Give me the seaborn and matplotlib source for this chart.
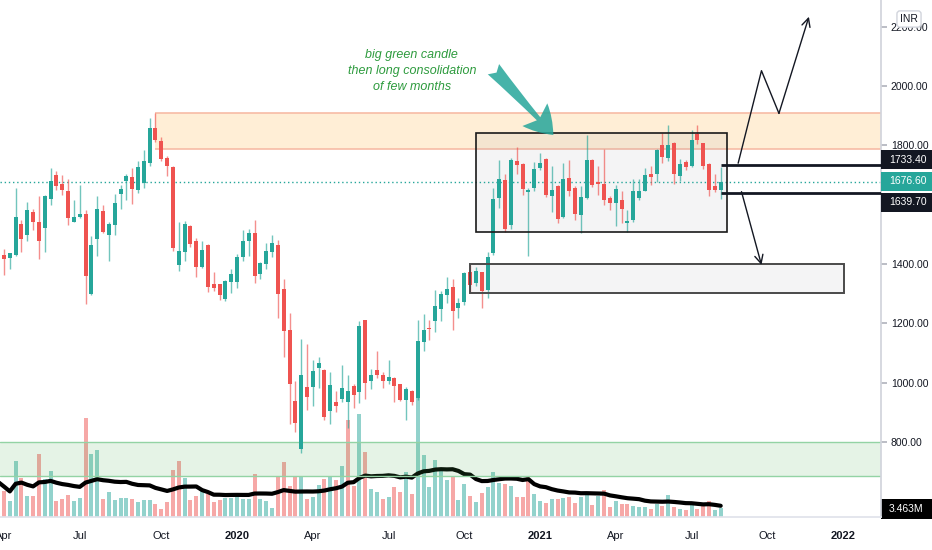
import logging
import numpy as np
import pandas as pd
import matplotlib
matplotlib.use("Agg")
import matplotlib.pyplot as plt
import matplotlib.dates as mdates
from matplotlib.patches import Rectangle
from matplotlib.transforms import blended_transform_factory, ScaledTranslation
import seaborn as sns

logging.getLogger('matplotlib').setLevel(logging.CRITICAL)

# ---------------- data (weekly bars) ----------------
dates = pd.date_range("2019-03-25", periods=125, freq="W-MON")

opens = [1442, 1429, 1419, 1430, 1535, 1498, 1575, 1541, 1521, 1619,
         1700, 1669, 1645, 1543, 1560, 1568, 1298, 1484, 1580, 1498,
         1532, 1637, 1679, 1693, 1651, 1674, 1739, 1860, 1815, 1758,
         1728, 1397, 1442, 1527, 1479, 1391, 1463, 1331, 1331, 1281,
         1340, 1340, 1423, 1476, 1506, 1366, 1400, 1442, 1464, 1315,
         1176, 939, 775, 986, 984, 1049, 1043, 905, 933, 945,
         936, 988, 967, 1210, 1007, 1041, 1024, 1004, 1016, 996,
         942, 971, 947, 1137, 1184, 1207, 1247, 1295, 1323, 1253,
         1272, 1374, 1335, 1372, 1312, 1436, 1623, 1682, 1532, 1749,
         1736, 1644, 1657, 1724, 1753, 1631, 1664, 1560, 1691, 1657,
         1566, 1623, 1750, 1675, 1671, 1623, 1606, 1615, 1537, 1547,
         1623, 1647, 1702, 1702, 1800, 1758, 1809, 1696, 1743, 1732,
         1837, 1807, 1736, 1662, 1649]

highs = [1450, 1450, 1438, 1655, 1549, 1609, 1587, 1631, 1634, 1723,
         1715, 1700, 1687, 1615, 1667, 1583, 1495, 1628, 1600, 1540,
         1637, 1667, 1702, 1724, 1746, 1783, 1891, 1908, 1827, 1764,
         1730, 1541, 1546, 1532, 1489, 1479, 1468, 1372, 1332, 1346,
         1383, 1434, 1515, 1518, 1547, 1408, 1470, 1498, 1481, 1351,
         1236, 1007, 1148, 1131, 1077, 1088, 1045, 1035, 973, 1058,
         1027, 996, 1207, 1212, 1047, 1105, 1035, 1075, 1020, 996,
         984, 975, 1210, 1233, 1210, 1312, 1310, 1357, 1351, 1284,
         1372, 1397, 1391, 1374, 1442, 1657, 1750, 1705, 1758, 1794,
         1741, 1657, 1745, 1775, 1758, 1730, 1668, 1741, 1750, 1664,
         1664, 1835, 1753, 1732, 1789, 1631, 1668, 1645, 1583, 1685,
         1685, 1724, 1732, 1789, 1841, 1869, 1813, 1753, 1750, 1852,
         1868, 1807, 1739, 1702, 1728]

lows = [1420, 1363, 1382, 1428, 1442, 1478, 1513, 1416, 1442, 1600,
        1651, 1632, 1532, 1541, 1555, 1264, 1295, 1427, 1506, 1411,
        1498, 1585, 1615, 1602, 1640, 1657, 1732, 1811, 1747, 1696,
        1445, 1377, 1411, 1459, 1357, 1385, 1306, 1310, 1280, 1276,
        1301, 1318, 1410, 1427, 1337, 1351, 1382, 1425, 1219, 1086,
        860, 832, 764, 907, 922, 982, 873, 860, 900, 933,
        848, 916, 930, 945, 979, 1016, 981, 996, 936, 937,
        873, 925, 941, 1108, 1142, 1170, 1208, 1269, 1179, 1218,
        1263, 1301, 1326, 1252, 1284, 1431, 1589, 1509, 1518, 1705,
        1634, 1428, 1645, 1716, 1626, 1575, 1538, 1555, 1628, 1549,
        1506, 1619, 1660, 1634, 1600, 1581, 1529, 1538, 1507, 1543,
        1615, 1645, 1668, 1675, 1741, 1747, 1671, 1679, 1716, 1728,
        1806, 1721, 1631, 1642, 1619]

closes = [1428, 1418, 1436, 1560, 1484, 1583, 1541, 1476, 1631, 1681,
          1664, 1648, 1555, 1560, 1568, 1359, 1464, 1587, 1508, 1535,
          1606, 1653, 1698, 1653, 1728, 1747, 1860, 1817, 1755, 1732,
          1453, 1444, 1536, 1468, 1391, 1447, 1323, 1320, 1295, 1342,
          1365, 1423, 1478, 1506, 1359, 1402, 1444, 1472, 1298, 1174,
          996, 865, 1024, 950, 1038, 1067, 885, 993, 922, 982,
          973, 959, 1190, 998, 1024, 1024, 1007, 1018, 988, 942,
          979, 933, 1139, 1176, 1180, 1259, 1298, 1315, 1242, 1269,
          1368, 1329, 1376, 1310, 1425, 1620, 1685, 1518, 1750, 1733,
          1653, 1651, 1719, 1739, 1634, 1649, 1552, 1685, 1645, 1570,
          1626, 1750, 1668, 1671, 1615, 1606, 1653, 1585, 1546, 1647,
          1647, 1699, 1693, 1786, 1760, 1800, 1705, 1736, 1728, 1818,
          1817, 1732, 1649, 1649, 1676.6]

# volume in millions
volume_m = [10.3, 7.6, 4.7, 16.5, 11.5, 6.2, 6.2, 18.5, 11.2, 13.5,
            4.7, 5.3, 6.5, 4.7, 5.6, 29.1, 18.5, 19.7, 5.3, 7.4,
            5.0, 5.6, 5.6, 5.3, 4.4, 5.0, 5.0, 3.8, 2.4, 4.4,
            13.8, 16.5, 11.5, 5.0, 6.2, 7.9, 6.8, 4.4, 5.0, 5.6,
            5.6, 5.9, 5.3, 5.3, 12.6, 5.3, 4.7, 2.6, 12.1, 16.2,
            9.1, 12.1, 12.1, 5.3, 5.9, 9.4, 11.2, 12.1, 10.9, 15.0,
            28.5, 9.1, 30.3, 19.1, 8.2, 7.4, 5.3, 5.9, 8.8, 7.4,
            13.2, 6.8, 35.9, 18.2, 8.8, 16.8, 13.5, 10.9, 11.8, 5.0,
            9.7, 6.2, 4.4, 7.1, 8.8, 13.2, 10.0, 9.7, 9.1, 5.9,
            5.9, 11.8, 6.8, 4.7, 4.1, 5.3, 5.3, 5.6, 5.9, 4.1,
            5.9, 6.5, 3.5, 6.2, 7.9, 2.9, 4.7, 3.8, 3.8, 3.2,
            2.9, 2.9, 2.4, 3.8, 3.2, 6.5, 2.9, 2.4, 2.1, 3.5,
            2.4, 3.2, 4.7, 2.1, 2.6]

tick_dates = ["2019-04-01", "2019-07-01", "2019-10-07", "2020-01-06", "2020-04-06",
              "2020-07-06", "2020-10-05", "2021-01-04", "2021-04-05", "2021-07-05",
              "2021-10-04", "2022-01-03"]
tick_labels = ["Apr", "Jul", "Oct", "2020", "Apr", "Jul", "Oct", "2021",
               "Apr", "Jul", "Oct", "2022"]
# 1600 sits under the price tags, so it is not labelled
price_ticks = [800, 1000, 1200, 1400, 1800, 2000, 2200]

# drawings
supply_zone = (1788, 1908)
demand_zone = (685, 800)
range_box = (1509, 1841)
lower_box = (1303, 1399)
lower_box_end = "2022-01-04"
up_path_dates = ["2021-08-30", "2021-09-27", "2021-10-18", "2021-11-23"]
up_path_prices = [1740, 2052, 1908, 2234]
down_path_dates = ["2021-09-03", "2021-09-27"]
down_path_prices = [1644, 1397]
level_hi, level_lo = 1733.40, 1639.70
note_text = "big green candle\nthen long consolidation\nof few months"
note_pos = ("2020-08-03", 2052)
pointer_from = ("2020-11-09", 2057)
pointer_to = ("2021-01-20", 1835)

GREEN = "#26a69a"
RED = "#ef5350"
DARK = "#131722"

# ---------------- figure ----------------
sns.set_theme(style="white")
plt.rcParams["font.family"] = ["Liberation Sans", "DejaVu Sans"]

fig = plt.figure(figsize=(9.32, 5.5), dpi=100)
rect = [0, 33 / 550, 881 / 932, 517 / 550]
ax_vol = fig.add_axes(rect)
ax = fig.add_axes(rect, sharex=ax_vol)
ax.patch.set_visible(False)

o = np.array(opens, dtype=float)
c = np.array(closes, dtype=float)
h = np.array(highs, dtype=float)
l = np.array(lows, dtype=float)
v = np.array(volume_m)
up = c >= o
cols = np.where(up, GREEN, RED)
prev_c = np.concatenate([[o[0]], c[:-1]])
vcols = np.where(c >= prev_c, GREEN, RED)

x_left = pd.Timestamp("2019-04-01") - pd.Timedelta(days=4.8)
x_right = pd.Timestamp("2019-04-01") + pd.Timedelta(days=1053.6)

# volume pane
ax_vol.bar(dates, v, width=4.8, color=vcols, alpha=0.5, linewidth=0)
vol_ma = pd.Series(v).rolling(20, min_periods=1).mean()
sns.lineplot(x=dates, y=vol_ma.values, ax=ax_vol, color="black", linewidth=3)
ax_vol.set_ylim(0, 517 / 3.4)
ax_vol.set_xlim(x_left, x_right)
ax_vol.set_xlabel("")
ax_vol.set_ylabel("")
ax_vol.tick_params(left=False, labelleft=False, bottom=False, labelbottom=False)
for s in ax_vol.spines.values():
    s.set_visible(False)

# zones
ax.axhspan(*demand_zone, color="#4caf50", alpha=0.14, linewidth=0, zorder=0.5)
ax.axhline(demand_zone[0], color="#93d3a4", lw=1, zorder=0.6)
ax.axhline(demand_zone[1], color="#93d3a4", lw=1, zorder=0.6)

ax.fill_between([dates[27], x_right], supply_zone[0], supply_zone[1],
                color="#ff9800", alpha=0.16, linewidth=0, zorder=0.5)
ax.hlines(list(supply_zone), dates[27], x_right, color="#f7bba5", lw=1.2, zorder=0.6)

x0 = mdates.date2num(dates[82])
x1 = mdates.date2num(dates[124] + pd.Timedelta(days=7))
ax.add_patch(Rectangle((x0, range_box[0]), x1 - x0, range_box[1] - range_box[0],
                       facecolor="#9598a1", alpha=0.1, edgecolor="none", zorder=0.7))
ax.add_patch(Rectangle((x0, range_box[0]), x1 - x0, range_box[1] - range_box[0],
                       facecolor="none", edgecolor="#1a1a1a", lw=1.2, zorder=3))

lx0 = mdates.date2num(dates[81])
lx1 = mdates.date2num(pd.Timestamp(lower_box_end))
ax.add_patch(Rectangle((lx0, lower_box[0]), lx1 - lx0, lower_box[1] - lower_box[0],
                       facecolor="#9598a1", alpha=0.1, edgecolor="none", zorder=0.7))
ax.add_patch(Rectangle((lx0, lower_box[0]), lx1 - lx0, lower_box[1] - lower_box[0],
                       facecolor="none", edgecolor="#4a4a4a", lw=1.4, zorder=3))

# last price line
ax.axhline(c[-1], color=GREEN, lw=1, ls=(0, (1, 2)), zorder=1)

# candles
ax.vlines(dates, l, h, colors=cols, lw=1, alpha=0.65, zorder=2)
ax.bar(dates, np.maximum(np.abs(c - o), 3.4), bottom=np.minimum(o, c), width=4.8,
       color=cols, linewidth=0, zorder=2.2)

# horizontal levels
ax.hlines([level_hi, level_lo], dates[124], x_right, color=DARK, lw=2, zorder=4)

# projected paths
upd = pd.to_datetime(up_path_dates)
ax.plot(upd[:-1], up_path_prices[:-1], color=DARK, lw=1, zorder=4)
ax.annotate("", xy=(upd[-1], up_path_prices[-1]), xytext=(upd[-2], up_path_prices[-2]),
            arrowprops=dict(arrowstyle="->,head_length=0.5,head_width=0.25", color=DARK, lw=1,
                            shrinkA=0, shrinkB=0), zorder=4)
dnd = pd.to_datetime(down_path_dates)
ax.annotate("", xy=(dnd[-1], down_path_prices[-1]), xytext=(dnd[0], down_path_prices[0]),
            arrowprops=dict(arrowstyle="->,head_length=0.5,head_width=0.25", color=DARK, lw=1,
                            shrinkA=0, shrinkB=0), zorder=4)

# note + pointer
ax.text(pd.Timestamp(note_pos[0]), note_pos[1], note_text, ha="center", va="center",
        color="#2e9b3e", style="italic", fontsize=9, linespacing=1.45, zorder=5)
ax.annotate("", xy=(pd.Timestamp(pointer_to[0]), pointer_to[1]),
            xytext=(pd.Timestamp(pointer_from[0]), pointer_from[1]),
            arrowprops=dict(arrowstyle="fancy,head_length=0.9,head_width=1.1,tail_width=0.5",
                            color=GREEN, alpha=0.85, mutation_scale=22, shrinkA=0, shrinkB=0,
                            linewidth=0), zorder=5)

# axes styling
ax.set_xlim(x_left, x_right)
ax.set_ylim(546.7, 2290.4)
ax.yaxis.tick_right()
ax.set_yticks(price_ticks)
ax.set_yticklabels([f"{p:.2f}" for p in price_ticks])
ax.tick_params(axis="y", right=True, length=4, color="#b2b5be", labelsize=7.5,
               labelcolor=DARK, pad=3)
ax.set_xticks(pd.to_datetime(tick_dates))
ax.set_xticklabels(tick_labels)
ax.set_xlabel("")
ax.tick_params(axis="x", bottom=False, labelsize=8, labelcolor=DARK, pad=4)
for lbl in ax.get_xticklabels():
    if lbl.get_text().isdigit():
        lbl.set_fontweight("bold")
for side in ["left", "top"]:
    ax.spines[side].set_visible(False)
ax.spines["right"].set_color("#d1d4dc")
ax.spines["bottom"].set_color("#e0e3eb")
ax.grid(False)
ax_vol.grid(False)

# price tags on the scale
tr = blended_transform_factory(ax.transAxes, ax.transData)
unit = 517 / (2290.4 - 546.7)  # px per price unit
for val, fc, dy in [(level_hi, DARK, 5.5), (c[-1], GREEN, 0.5), (level_lo, DARK, -9.5)]:
    t = tr + ScaledTranslation(0, dy / 100, fig.dpi_scale_trans)
    ax.add_patch(Rectangle((1.0, val - 9.5 / unit), 51 / 881, 19 / unit, transform=t,
                           facecolor=fc, edgecolor="none", clip_on=False, zorder=10))
    ax.text(1.0 + 8 / 881, val, f"{val:.2f}", transform=t, ha="left", va="center",
            color="white", fontsize=7.5, clip_on=False, zorder=11)

trv = blended_transform_factory(ax_vol.transAxes, ax_vol.transData)
vunit = 3.4
t = trv + ScaledTranslation(0, -3 / 100, fig.dpi_scale_trans)
ma_last = vol_ma.values[-1]
ax_vol.add_patch(Rectangle((1.0, ma_last - 10 / vunit), 51 / 881, 20 / vunit, transform=t,
                           facecolor="black", edgecolor="none", clip_on=False, zorder=10))
ax_vol.text(1.0 + 8 / 881, ma_last, "3.463M", transform=t, ha="left", va="center",
            color="white", fontsize=7.5, clip_on=False, zorder=11)

fig.text(909 / 932, 1 - 19 / 550, "INR", ha="center", va="center", fontsize=7.5, color=DARK,
         bbox=dict(boxstyle="round,pad=0.3", fc="white", ec="#d1d4dc", lw=1), zorder=20)

fig.savefig("out.png", dpi=100)
